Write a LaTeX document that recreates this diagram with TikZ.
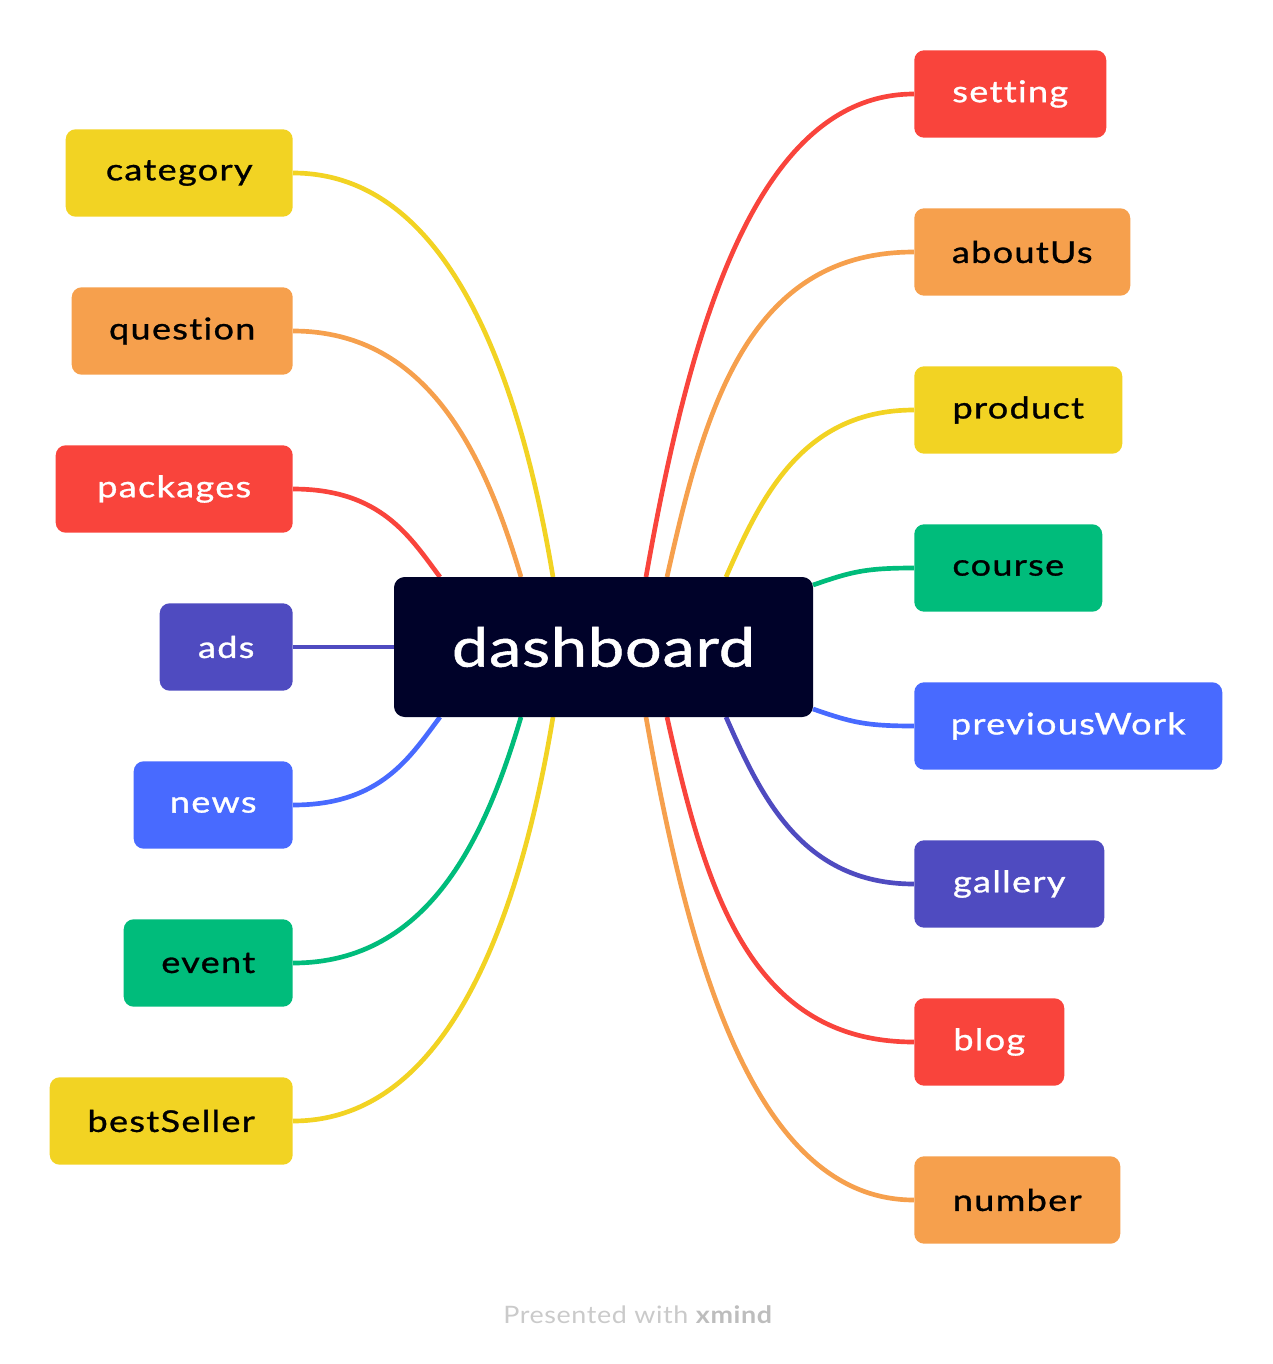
\documentclass[tikz,border=0pt]{standalone}
\usepackage{fontspec}
\setmainfont{Lato}[Ligatures=NoCommon]
\newfontfamily\brfont{Lato}[FakeStretch=1.2, LetterSpace=4.5, FakeBold=1, Ligatures=NoCommon]
\newfontfamily\rtfont{Lato}[FakeStretch=1.2, LetterSpace=1.5, FakeBold=1, Ligatures=NoCommon]
\newfontfamily\ftfont{Lato}[FakeStretch=1.12, LetterSpace=2.5, Ligatures=NoCommon]
\usetikzlibrary{backgrounds}
\definecolor{cred}{HTML}{F9443C}
\definecolor{corange}{HTML}{F6A04D}
\definecolor{cyellow}{HTML}{F2D323}
\definecolor{cgreen}{HTML}{00BC7B}
\definecolor{cblue}{HTML}{486AFF}
\definecolor{cpurple}{HTML}{4F4BC0}
\definecolor{cnavy}{HTML}{000229}
\definecolor{cgray}{HTML}{CACACA}
\definecolor{cgraydark}{HTML}{BDBDBD}
\tikzset{
  branch/.style={rounded corners=7.5pt, minimum height=65.6pt, inner sep=0pt,
    font=\brfont\fontsize{22.5}{27}\selectfont},
  lbranch/.style={branch, anchor=east},
  rbranch/.style={branch, anchor=west},
  rootbox/.style={rounded corners=8pt, fill=cnavy, text=white, minimum width=314.25pt,
    minimum height=105pt, inner sep=0pt, font=\rtfont\fontsize{40.5}{48}\selectfont},
  conn/.style={line width=3.5pt}
}
\begin{document}
\begin{tikzpicture}[x=0.75pt,y=-0.75pt]
\useasboundingbox (0,0) rectangle (1272,1364);
\node[rootbox] (root) at (603.5,647) {dashboard};
% left branches
\node[lbranch, fill=cyellow, text=black, minimum width=170.25pt] (cat) at (293,173) {category};
\node[lbranch, fill=corange, text=black, minimum width=165.75pt] (que) at (293,331) {question};
\node[lbranch, fill=cred, text=white, minimum width=177.75pt] (pac) at (293,489) {packages};
\node[lbranch, fill=cpurple, text=white, minimum width=99.75pt] (ads) at (293,647) {ads};
\node[lbranch, fill=cblue, text=white, minimum width=119.25pt] (new) at (293,805) {news};
\node[lbranch, fill=cgreen, text=black, minimum width=126.75pt] (eve) at (293,963) {event};
\node[lbranch, fill=cyellow, text=black, minimum width=182.25pt] (bes) at (293,1121) {bestSeller};
% right branches
\node[rbranch, fill=cred, text=white, minimum width=144pt] (set) at (914,94) {setting};
\node[rbranch, fill=corange, text=black, minimum width=162pt] (abo) at (914,252) {aboutUs};
\node[rbranch, fill=cyellow, text=black, minimum width=156pt] (pro) at (914,410) {product};
\node[rbranch, fill=cgreen, text=black, minimum width=141pt] (cou) at (914,568) {course};
\node[rbranch, fill=cblue, text=white, minimum width=231pt] (pre) at (914,726) {previousWork};
\node[rbranch, fill=cpurple, text=white, minimum width=142.5pt] (gal) at (914,884) {gallery};
\node[rbranch, fill=cred, text=white, minimum width=112.5pt] (blo) at (914,1042) {blog};
\node[rbranch, fill=corange, text=black, minimum width=154.5pt] (num) at (914,1200) {number};
% end points on the root box
\coordinate (ecat) at (553,577);
\coordinate (eque) at (521,577);
\coordinate (epac) at (440,577);
\coordinate (enew) at (440,717);
\coordinate (eeve) at (521,717);
\coordinate (ebes) at (553,717);
\coordinate (eset) at (646,577);
\coordinate (eabo) at (667,577);
\coordinate (epro) at (726,577);
\coordinate (ecou) at (813,585);
\coordinate (epre) at (813,709);
\coordinate (egal) at (726,717);
\coordinate (eblo) at (667,717);
\coordinate (enum) at (646,717);
\begin{scope}[on background layer]
\draw[conn, cyellow] (cat.east) .. controls (449,173) and (520,378) .. (ecat);
\draw[conn, corange] (que.east) .. controls (430,331) and (486,459) .. (eque);
\draw[conn, cred] (pac.east) .. controls (381,489) and (410,537) .. (epac);
\draw[conn, cpurple] (ads.east) -- (root.west);
\draw[conn, cblue] (new.east) .. controls (381,805) and (410,757) .. (enew);
\draw[conn, cgreen] (eve.east) .. controls (430,963) and (486,835) .. (eeve);
\draw[conn, cyellow] (bes.east) .. controls (449,1121) and (520,916) .. (ebes);
\draw[conn, cred] (set.west) .. controls (753,94) and (688,339) .. (eset);
\draw[conn, corange] (abo.west) .. controls (749,252) and (705,406) .. (eabo);
\draw[conn, cyellow] (pro.west) .. controls (801,410) and (760,500) .. (epro);
\draw[conn, cgreen] (cou.west) .. controls (864,568) and (851,572) .. (ecou);
\draw[conn, cblue] (pre.west) .. controls (864,726) and (851,722) .. (epre);
\draw[conn, cpurple] (gal.west) .. controls (801,884) and (760,794) .. (egal);
\draw[conn, cred] (blo.west) .. controls (749,1042) and (705,888) .. (eblo);
\draw[conn, corange] (num.west) .. controls (753,1200) and (688,955) .. (enum);
\end{scope}
\node[font=\ftfont\fontsize{18}{22}\selectfont, text=cgray] (foot) at (638,1315) {Presented with \textcolor{cgraydark}{\textbf{xmind}}};
\end{tikzpicture}
\end{document}
